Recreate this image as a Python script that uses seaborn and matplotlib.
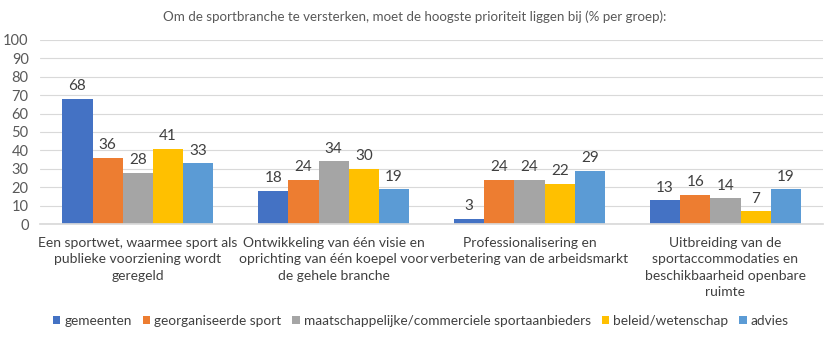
import matplotlib
matplotlib.use("Agg")
import matplotlib.pyplot as plt
import seaborn as sns
import pandas as pd

categories = [
    "Een sportwet, waarmee sport als\npublieke voorziening wordt\ngeregeld",
    "Ontwikkeling van één visie en\noprichting van één koepel voor\nde gehele branche",
    "Professionalisering en\nverbetering van de arbeidsmarkt",
    "Uitbreiding van de\nsportaccommodaties en\nbeschikbaarheid openbare\nruimte",
]
groups = [
    "gemeenten",
    "georganiseerde sport",
    "maatschappelijke/commerciele sportaanbieders",
    "beleid/wetenschap",
    "advies",
]
gemeenten = [68, 18, 3, 13]
georganiseerde_sport = [36, 24, 24, 16]
maatschappelijk = [28, 34, 24, 14]
beleid = [41, 30, 22, 7]
advies = [33, 19, 29, 19]
series = [gemeenten, georganiseerde_sport, maatschappelijk, beleid, advies]
colors = ["#4472C4", "#ED7D31", "#A5A5A5", "#FFC000", "#5B9BD5"]
y_ticks = list(range(0, 101, 10))
title = "Om de sportbranche te versterken, moet de hoogste prioriteit liggen bij (% per groep):"

rows = []
for g, vals in zip(groups, series):
    for c, v in zip(categories, vals):
        rows.append({"categorie": c, "groep": g, "pct": v})
df = pd.DataFrame(rows)

sns.set_theme(style="white")
plt.rcParams["font.family"] = ["Lato", "DejaVu Sans"]
text_color = "#595959"
label_color = "#404040"

fig = plt.figure(figsize=(8.3, 3.38), dpi=100)
ax = fig.add_axes([0.048, 0.337, 0.944, 0.545])

sns.barplot(data=df, x="categorie", y="pct", hue="groep", order=categories,
            hue_order=groups, palette=colors, width=0.77, saturation=1,
            linewidth=0, edgecolor="none", ax=ax, legend=True)

for cont in ax.containers:
    ax.bar_label(cont, fmt="%d", padding=4, fontsize=11, color=label_color)

ax.set_ylim(0, 100)
ax.set_yticks(y_ticks)
ax.set_yticklabels([str(t) for t in y_ticks], fontsize=10.5, color=text_color)
ax.tick_params(axis="y", length=0, pad=8)
ax.tick_params(axis="x", length=0, pad=9, labelsize=10, labelcolor=label_color)
ax.set_xlabel("")
ax.set_ylabel("")
ax.yaxis.grid(True, color="#D9D9D9", linewidth=0.8)
ax.set_axisbelow(True)
for s in ["top", "right", "left"]:
    ax.spines[s].set_visible(False)
ax.spines["bottom"].set_color("#D9D9D9")
ax.set_xlim(-0.5, 3.5)
for lbl in ax.get_xticklabels():
    lbl.set_linespacing(1.45)

handles, labels = ax.get_legend_handles_labels()
ax.get_legend().remove()
fig.legend(handles, labels, loc="center", bbox_to_anchor=(0.507, 0.05), ncol=5,
           frameon=False, fontsize=9.8, handlelength=0.55, handleheight=0.55,
           handletextpad=0.3, columnspacing=0.8, labelcolor=label_color)

fig.text(0.5, 0.95, title, ha="center", va="center", fontsize=9.6, color=text_color)

fig.savefig("out.png", dpi=100)
